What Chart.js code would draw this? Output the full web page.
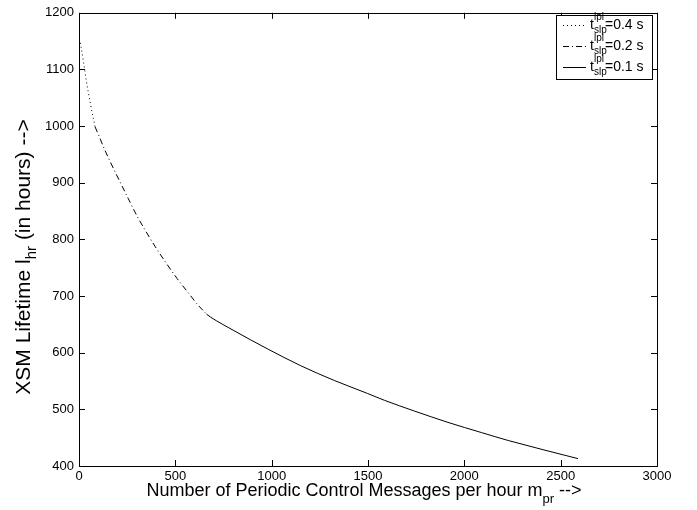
<!DOCTYPE html>
<html>
<head>
    <style>
        body {
            margin: 0;
            padding: 0;
            background: #fff;
        }
    </style>
    <title>XSM Lifetime</title>
    <script src="https://cdn.jsdelivr.net/npm/chart.js@4.4.0/dist/chart.umd.min.js"></script>
</head>
<body>
    <canvas id="chart" width="697" height="510"></canvas>

  <script>
    // values (m_pr per hour -> lifetime in hours)
    const mprSlow = [7, 24, 38, 59, 83];
    const lhrSlow = [1147, 1112, 1080, 1040, 999];

    const mprMid = [83, 97, 135, 158, 266, 300, 344, 396, 457, 509, 569, 613, 662];
    const lhrMid = [999, 988, 957, 940, 865, 842, 816, 787, 756, 731, 705, 686, 668];

    const mprFast = [662, 682, 804, 977, 1151, 1325, 1498, 1585, 1741, 1915, 2089, 2228, 2590];
    const lhrFast = [668, 663, 639, 607, 577, 551, 528, 516, 497, 477, 459, 445, 413];

    const xTicks = [0, 500, 1000, 1500, 2000, 2500, 3000];
    const yTicks = [400, 500, 600, 700, 800, 900, 1000, 1100, 1200];

    const legendValues = ['0.4', '0.2', '0.1'];

    const FONT = '"Liberation Sans", Arial, Helvetica, sans-serif';

    function toPoints(xs, ys) {
      return xs.map((x, i) => ({ x: x, y: ys[i] }));
    }

    const dashes = [[1, 3], [6, 3, 1, 3], []];

    // draws a string made of pieces with sub/superscripts, centred on cx
    function drawPieces(ctx, pieces, cx, baseY) {
      let total = 0;
      pieces.forEach(p => {
        ctx.font = p.size + 'px ' + FONT;
        p.w = ctx.measureText(p.text).width;
        total += p.w;
      });
      let x = cx - total / 2;
      pieces.forEach(p => {
        ctx.font = p.size + 'px ' + FONT;
        ctx.fillText(p.text, x, baseY + (p.dy || 0));
        x += p.w;
      });
    }

    const matlabFrame = {
      id: 'matlabFrame',
      afterDraw(chart) {
        const ctx = chart.ctx;
        const a = chart.chartArea;
        const xs = chart.scales.x;
        const ys = chart.scales.y;
        ctx.save();
        ctx.strokeStyle = '#000';
        ctx.lineWidth = 1;
        ctx.setLineDash([]);
        ctx.strokeRect(Math.round(a.left) + 0.5, Math.round(a.top) + 0.5,
          Math.round(a.right - a.left), Math.round(a.bottom - a.top));

        // inward ticks on all four sides
        const len = 6;
        ctx.beginPath();
        xs.ticks.forEach(t => {
          const px = Math.round(xs.getPixelForValue(t.value)) + 0.5;
          ctx.moveTo(px, a.bottom);
          ctx.lineTo(px, a.bottom - len);
          ctx.moveTo(px, a.top);
          ctx.lineTo(px, a.top + len);
        });
        ys.ticks.forEach(t => {
          const py = Math.round(ys.getPixelForValue(t.value)) + 0.5;
          ctx.moveTo(a.left, py);
          ctx.lineTo(a.left + len, py);
          ctx.moveTo(a.right, py);
          ctx.lineTo(a.right - len, py);
        });
        ctx.stroke();

        // axis titles
        ctx.fillStyle = '#000';
        ctx.textBaseline = 'alphabetic';
        ctx.textAlign = 'left';
        drawPieces(ctx, [
          { text: 'Number of Periodic Control Messages per hour m', size: 18 },
          { text: 'pr', size: 13, dy: 7 },
          { text: ' -->', size: 18 }
        ], 364, 496);

        ctx.save();
        ctx.translate(30, 257);
        ctx.rotate(-Math.PI / 2);
        drawPieces(ctx, [
          { text: 'XSM Lifetime l', size: 21 },
          { text: 'hr', size: 15, dy: 6 },
          { text: ' (in hours) -->', size: 21 }
        ], 0, 0);
        ctx.restore();

        // legend box
        const bx = 556, by = 15, bw = 96, bh = 64;
        ctx.fillStyle = '#fff';
        ctx.fillRect(bx, by, bw, bh);
        ctx.strokeRect(bx + 0.5, by + 0.5, bw, bh);
        const rowY = [25, 46, 67];
        legendValues.forEach((v, i) => {
          const y = rowY[i];
          ctx.beginPath();
          ctx.setLineDash(dashes[i]);
          ctx.strokeStyle = '#000';
          ctx.moveTo(563, y + 0.5);
          ctx.lineTo(586, y + 0.5);
          ctx.stroke();
          ctx.setLineDash([]);
          ctx.fillStyle = '#000';
          ctx.font = '14px ' + FONT;
          ctx.fillText('t', 590, y + 4);
          ctx.font = '10px ' + FONT;
          ctx.fillText('lpl', 594, y - 5);
          ctx.fillText('slp', 594, y + 8);
          ctx.font = '14px ' + FONT;
          ctx.fillText('=' + v + ' s', 605, y + 4);
        });
        ctx.restore();
      }
    };

    const ctx = document.getElementById('chart').getContext('2d');
    new Chart(ctx, {
      type: 'scatter',
      data: {
        datasets: [
          { label: 'slow', data: toPoints(mprSlow, lhrSlow), borderDash: dashes[0] },
          { label: 'mid', data: toPoints(mprMid, lhrMid), borderDash: dashes[1] },
          { label: 'fast', data: toPoints(mprFast, lhrFast), borderDash: dashes[2] }
        ].map(d => Object.assign(d, {
          showLine: true,
          borderColor: '#000',
          borderWidth: 1,
          pointRadius: 0,
          cubicInterpolationMode: 'monotone'
        }))
      },
      options: {
        responsive: false,
        animation: false,
        layout: { padding: { top: 9, right: 40, left: 0, bottom: 0 } },
        plugins: {
          legend: { display: false },
          tooltip: { enabled: false }
        },
        scales: {
          x: {
            type: 'linear',
            min: 0,
            max: 3000,
            afterBuildTicks: s => { s.ticks = xTicks.map(v => ({ value: v })); },
            afterFit: s => { s.height = 44; },
            grid: { display: false, drawTicks: false },
            border: { display: false },
            ticks: { color: '#000', font: { family: FONT, size: 13 }, padding: 3, maxRotation: 0, callback: v => String(v) }
          },
          y: {
            type: 'linear',
            min: 400,
            max: 1200,
            afterBuildTicks: s => { s.ticks = yTicks.map(v => ({ value: v })); },
            afterFit: s => { s.width = 79; },
            grid: { display: false, drawTicks: false },
            border: { display: false },
            ticks: { color: '#000', font: { family: FONT, size: 13 }, padding: 5, callback: v => String(v) }
          }
        }
      },
      plugins: [matlabFrame]
    });
  </script>
</body>
</html>
